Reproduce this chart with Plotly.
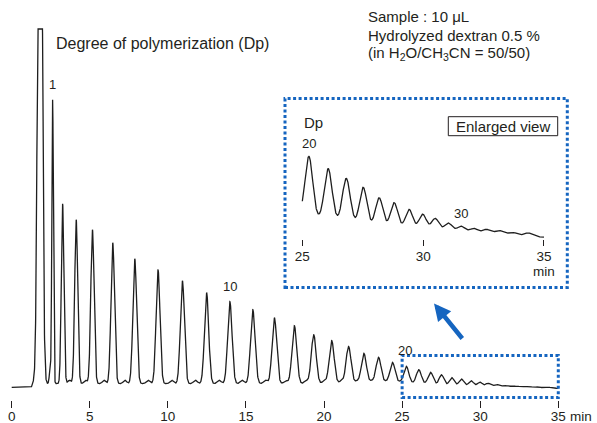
import numpy as np
import plotly.graph_objects as go

# ---------------- data ----------------
# major oligosaccharide peaks (Dp 1 ...): retention time (min), height, width (sigma, min)
peak_dp = list(range(1, 36))
peak_t = [2.62, 3.26, 4.13, 5.17, 6.47, 7.88, 9.37, 10.93, 12.48, 13.97,
          15.44, 16.82, 18.10, 19.34, 20.49, 21.57, 22.55, 23.49, 24.38, 25.27,
          26.07, 26.82, 27.52, 28.18, 28.80, 29.42, 29.98, 30.50, 31.04, 31.57,
          32.10, 32.62, 33.15, 33.70, 34.35]
peak_h = [284, 180, 164, 154, 141, 125, 114, 103, 91, 82,
          74, 66, 58, 49, 43, 37, 30, 26, 21, 17,
          14, 12, 10.2, 7.8, 6.8, 5.3, 4.2, 3.2, 2.1, 1.4,
          1.0, 0.9, 0.8, 0.6, 0.8]
peak_s = [0.05, 0.082, 0.095, 0.105, 0.113, 0.12, 0.125, 0.13, 0.135, 0.14,
          0.145, 0.148, 0.152, 0.155, 0.158, 0.16, 0.162, 0.163, 0.163, 0.16,
          0.16, 0.16, 0.15, 0.15, 0.15, 0.15, 0.15, 0.15, 0.15, 0.15,
          0.15, 0.15, 0.15, 0.15, 0.15]

# solvent / void peak (off scale)
solvent_t, solvent_h, solvent_s = 1.81, 900, 0.12
off_scale_cap = 359

# small secondary bumps between the main peaks
minor_t = [2.45, 3.70, 4.72, 5.90, 7.25, 8.73, 10.24, 11.76, 13.29, 14.76,
           16.25, 17.55, 18.85, 20.00, 21.10, 22.10, 23.05, 23.95, 24.85]
minor_h = [12, 3.5, 3.5, 3.5, 3.5, 3.5, 3.5, 3.5, 3.5, 3.5,
           3.5, 3.0, 3.0, 2.5, 2.5, 2.0, 2.0, 1.5, 1.5]
minor_s = [0.05, 0.1, 0.1, 0.1, 0.11, 0.11, 0.11, 0.12, 0.12, 0.12,
           0.12, 0.12, 0.12, 0.12, 0.12, 0.12, 0.12, 0.12, 0.12]

# baseline level
base_t = [0.0, 1.25, 1.40, 2.2, 20.0, 23.0, 25.7, 27.8, 29.7, 31.5, 33.0, 35.0]
base_v = [0.7, 0.7, 6.0, 4.3, 4.3, 4.8, 4.6, 2.8, 1.8, 1.3, 0.8, -0.3]

main_ticks = [0, 5, 10, 15, 20, 25, 30, 35]
inset_ticks = [25, 30, 35]
peak_labels = {1: "1", 10: "10", 20: "20"}
inset_labels = {20: "20", 30: "30"}

# ---------------- build the detector trace ----------------
t = np.linspace(0, 35, 7001)
sig = np.interp(t, base_t, base_v)
sig = sig + solvent_h * np.exp(-(t - solvent_t) ** 2 / (2 * solvent_s ** 2))
for tc, h, s in zip(peak_t, peak_h, peak_s):
    sig = sig + h * np.exp(-(t - tc) ** 2 / (2 * s ** 2))
for tc, h, s in zip(minor_t, minor_h, minor_s):
    sig = sig + h * np.exp(-(t - tc) ** 2 / (2 * s ** 2))
sig = np.minimum(sig, off_scale_cap)

W, H = 597, 423
def PX(x):
    return x / W
def PY(y):
    return 1 - y / H

FONT = "Liberation Sans, Arial, Helvetica, sans-serif"
TXT = "#231f20"
BLUE = "#1565c0"
LINE = "#1e1e1e"

fig = go.Figure()
fig.add_trace(go.Scatter(x=t, y=sig, mode="lines", line=dict(color=LINE, width=1.3),
                         xaxis="x", yaxis="y", hoverinfo="skip", showlegend=False))
m = (t >= 25) & (t <= 35)
fig.add_trace(go.Scatter(x=t[m], y=sig[m], mode="lines", line=dict(color=LINE, width=1.3),
                         xaxis="x2", yaxis="y2", hoverinfo="skip", showlegend=False))

axis_common = dict(showgrid=False, zeroline=False, showline=False, ticks="outside",
                   tickcolor=TXT, tickwidth=1, automargin=False,
                   tickfont=dict(family=FONT, size=13.5, color=TXT))

fig.update_layout(
    width=W, height=H, autosize=False,
    margin=dict(l=0, r=0, t=0, b=0, pad=0),
    paper_bgcolor="white", plot_bgcolor="rgba(0,0,0,0)",
    xaxis=dict(domain=[0, 1], range=[-0.749, 37.479], tickvals=main_ticks, ticklen=7,
               anchor="y", ticklabelstandoff=-3, **axis_common),
    yaxis=dict(domain=[PY(400), 1], range=[-12, 388], visible=False, anchor="x"),
    xaxis2=dict(domain=[PX(299.9), PX(546.4)], range=[24.9, 35.1], tickvals=inset_ticks,
                ticklen=6, anchor="y2", ticklabelstandoff=-1, **axis_common),
    yaxis2=dict(domain=[PY(239), PY(145)], range=[-0.8, 24.7], visible=False, anchor="x2"),
)

ann = []
def text(x, y, s, size=13, xanchor="center"):
    ann.append(dict(x=PX(x), y=PY(y), xref="paper", yref="paper", text=s, showarrow=False,
                    xanchor=xanchor, yanchor="middle",
                    font=dict(family=FONT, size=size, color=TXT)))

text(54, 43.5, "Degree of polymerization (Dp)", size=16, xanchor="left")
for dp, lab in peak_labels.items():
    i = peak_dp.index(dp)
    ann.append(dict(x=peak_t[i] - (0.1 if dp == 20 else 0), y=sig[np.argmin(abs(t - peak_t[i]))],
                    xref="x", yref="y", text=lab, showarrow=False,
                    xanchor="center", yanchor="bottom", yshift=6,
                    font=dict(family=FONT, size=13, color=TXT)))
for dp, lab in inset_labels.items():
    i = peak_dp.index(dp)
    ann.append(dict(x=peak_t[i], y=sig[np.argmin(abs(t - peak_t[i]))],
                    xref="x2", yref="y2", text=lab, showarrow=False,
                    xanchor="center", yanchor="bottom", yshift=3,
                    font=dict(family=FONT, size=13, color=TXT)))
text(365.5, 16, "Sample : 10 μL", size=15, xanchor="left")
text(365.5, 35, "Hydrolyzed dextran 0.5 %", size=15, xanchor="left")
text(365.5, 54, "(in H<sub>2</sub>O/CH<sub>3</sub>CN = 50/50)", size=15, xanchor="left")
text(301.5, 122.5, "Dp", size=15, xanchor="left")
text(503, 126.2, "Enlarged view", size=15)
text(544, 271, "min", size=13.5)
text(567.5, 416.5, "min", size=13.5, xanchor="left")

# arrow from the zoomed region to the enlarged view
ann.append(dict(x=PX(434), y=PY(303.5), xref="paper", yref="paper", text="",
                showarrow=True, ax=29.5, ay=36.5, axref="pixel", ayref="pixel",
                arrowhead=2, arrowsize=0.75, arrowwidth=4.5, arrowcolor=BLUE, standoff=0))
fig.update_layout(annotations=ann)

dot = dict(color=BLUE, width=3, dash="3px,2.5px")
fig.update_layout(shapes=[
    dict(type="rect", xref="paper", yref="paper", x0=PX(285), x1=PX(567.3),
         y0=PY(287.5), y1=PY(98.5), line=dot),
    dict(type="rect", xref="x", yref="y", x0=25, x1=35, y0=-9.5, y1=32.5, line=dot),
    dict(type="rect", xref="paper", yref="paper", x0=PX(448.3), x1=PX(557.7),
         y0=PY(135.7), y1=PY(116.7), line=dict(color=TXT, width=1)),
])

fig.write_html("out.html", config={"displayModeBar": False},
               post_script="document.body.style.margin='0';document.body.style.overflow='hidden';")
